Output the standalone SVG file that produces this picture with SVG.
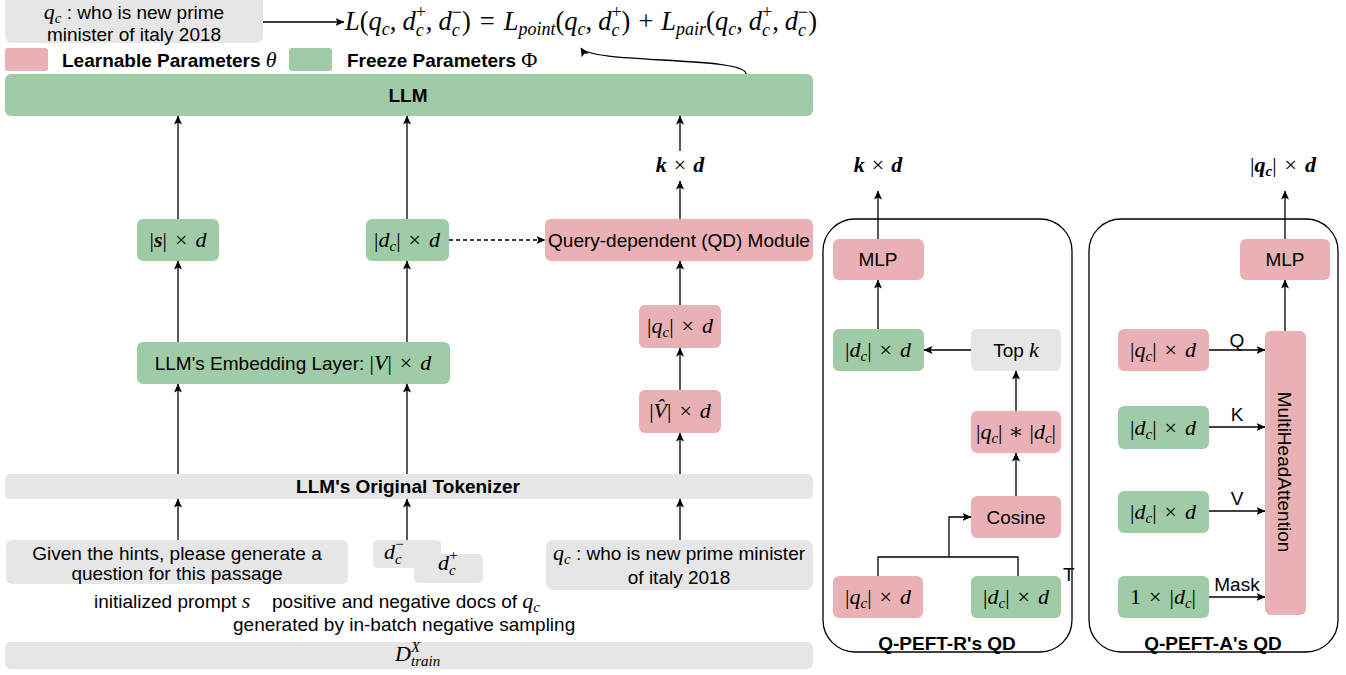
<svg xmlns="http://www.w3.org/2000/svg" width="1346" height="675" viewBox="0 0 1346 675">
<defs>
<style>
.pink{fill:#e9b0b5}
.green{fill:#9fcba6}
.gray{fill:#e6e6e6}
text{fill:#000}
.t{font-family:"Liberation Sans",Arial,sans-serif;font-size:19px;font-style:normal;font-weight:normal}
.b{font-weight:bold}
.m{font-family:"Liberation Serif","DejaVu Serif",serif;font-style:italic;font-size:22px}
.f{font-family:"Liberation Serif","DejaVu Serif",serif;font-style:italic;font-size:26.5px}
.u{font-style:normal}
.n{font-weight:normal}
.s{font-size:15px}
.fs{font-size:18px}
.conn line,.conn path,.conn polyline{stroke:#000;stroke-width:1.3;fill:none}
.panel{fill:none;stroke:#000;stroke-width:1.3}
</style>
<marker id="a" viewBox="0 0 10 8" refX="8.5" refY="4" markerWidth="10" markerHeight="8" markerUnits="userSpaceOnUse" orient="auto">
<path d="M0,0 L9,4 L0,8 L2,4 z" fill="#000"/>
</marker>
</defs>
<rect width="1346" height="675" fill="#fff"/>

<g id="top-query">
<rect class="gray" x="5" y="-6" width="258" height="49" rx="7"/>
<text x="134" y="19" text-anchor="middle"><tspan class="m" font-size="22">q<tspan class="s" dy="4">c</tspan></tspan><tspan class="t" dy="-4"> : who is new prime</tspan></text>
<text class="t" x="134" y="41" text-anchor="middle">minister of italy 2018</text>
</g>

<g id="loss">
<text class="f" x="345" y="30">L<tspan class="u">(</tspan>q<tspan class="fs" dy="5">c</tspan><tspan class="u" dy="-5">,</tspan><tspan dx="6">d</tspan><tspan class="fs" dy="6">c</tspan><tspan class="fs u" dx="-8" dy="-18">+</tspan><tspan class="u" dy="12">,</tspan><tspan dx="6">d</tspan><tspan class="fs" dy="6">c</tspan><tspan class="fs u" dx="-8" dy="-18">−</tspan><tspan class="u" dy="12">)</tspan><tspan class="u" dx="9">=</tspan><tspan dx="9">L</tspan><tspan class="fs" dy="5">point</tspan><tspan class="u" dy="-5">(</tspan>q<tspan class="fs" dy="5">c</tspan><tspan class="u" dy="-5">,</tspan><tspan dx="6">d</tspan><tspan class="fs" dy="6">c</tspan><tspan class="fs u" dx="-8" dy="-18">+</tspan><tspan class="u" dy="12">)</tspan><tspan class="u" dx="8">+</tspan><tspan dx="8">L</tspan><tspan class="fs" dy="5">pair</tspan><tspan class="u" dy="-5">(</tspan>q<tspan class="fs" dy="5">c</tspan><tspan class="u" dy="-5">,</tspan><tspan dx="6">d</tspan><tspan class="fs" dy="6">c</tspan><tspan class="fs u" dx="-8" dy="-18">+</tspan><tspan class="u" dy="12">,</tspan><tspan dx="6">d</tspan><tspan class="fs" dy="6">c</tspan><tspan class="fs u" dx="-8" dy="-18">−</tspan><tspan class="u" dy="12">)</tspan></text>
</g>

<g id="legend">
<rect class="pink" x="5" y="48" width="43" height="23" rx="3"/>
<text x="62" y="67"><tspan class="t b">Learnable Parameters </tspan><tspan class="m" font-size="21">θ</tspan></text>
<rect class="green" x="289" y="48" width="43" height="23" rx="3"/>
<text x="347" y="67"><tspan class="t b">Freeze Parameters </tspan><tspan class="m u" font-size="21">Φ</tspan></text>
</g>

<g id="llm">
<rect class="green" x="5" y="74" width="808" height="42" rx="6"/>
<text class="t b" x="408" y="102" text-anchor="middle">LLM</text>
</g>

<g id="kxd-left">
<text class="m" x="680" y="172" text-anchor="middle" font-weight="bold">k<tspan class="u n" dx="7">×</tspan><tspan dx="7">d</tspan></text>
</g>

<g id="s-d">
<rect class="green" x="137" y="219" width="82" height="42" rx="6"/>
<text class="m" x="178" y="247" text-anchor="middle"><tspan class="u">|</tspan><tspan font-weight="bold">s</tspan><tspan class="u">|</tspan><tspan class="u" dx="8">×</tspan><tspan dx="8">d</tspan></text>
</g>

<g id="dc-d">
<rect class="green" x="366" y="219" width="83" height="42" rx="6"/>
<text class="m" x="407" y="247" text-anchor="middle"><tspan class="u">|</tspan>d<tspan class="s" dy="4">c</tspan><tspan class="u" dy="-4">|</tspan><tspan class="u" dx="8">×</tspan><tspan dx="8">d</tspan></text>
</g>

<g id="qd-module">
<rect class="pink" x="545" y="219" width="268" height="42" rx="6"/>
<text class="t" x="679" y="247" text-anchor="middle">Query-dependent (QD) Module</text>
</g>

<g id="embedding">
<rect class="green" x="137" y="342" width="313" height="42" rx="6"/>
<text x="293" y="370" text-anchor="middle"><tspan class="t">LLM's Embedding Layer: </tspan><tspan class="m"><tspan class="u">|</tspan>V<tspan class="u">|</tspan><tspan class="u" dx="8">×</tspan><tspan dx="8">d</tspan></tspan></text>
</g>

<g id="qc-d">
<rect class="pink" x="639" y="305" width="82" height="43" rx="6"/>
<text class="m" x="680" y="333" text-anchor="middle"><tspan class="u">|</tspan>q<tspan class="s" dy="4">c</tspan><tspan class="u" dy="-4">|</tspan><tspan class="u" dx="8">×</tspan><tspan dx="8">d</tspan></text>
</g>

<g id="vhat-d">
<rect class="pink" x="639" y="390" width="82" height="43" rx="6"/>
<text class="m" x="680" y="418" text-anchor="middle"><tspan class="u">|</tspan>V̂<tspan class="u">|</tspan><tspan class="u" dx="8">×</tspan><tspan dx="8">d</tspan></text>
</g>

<g id="tokenizer">
<rect class="gray" x="5" y="474" width="808" height="25" rx="5"/>
<text class="t b" x="408" y="493" text-anchor="middle">LLM's Original Tokenizer</text>
</g>

<g id="prompt">
<rect class="gray" x="6" y="540" width="342" height="44" rx="6"/>
<text class="t" x="177" y="560" text-anchor="middle">Given the hints, please generate a</text>
<text class="t" x="177" y="580" text-anchor="middle">question for this passage</text>
</g>

<g id="docs">
<rect class="gray" x="373" y="540" width="68" height="28" rx="5"/>
<rect class="gray" x="414" y="554" width="69" height="29" rx="5"/>
<text class="m" x="384" y="559">d<tspan class="s" dy="5">c</tspan><tspan class="s u" dx="-6.5" dy="-15">−</tspan></text>
<text class="m" x="438" y="570">d<tspan class="s" dy="5">c</tspan><tspan class="s u" dx="-6.5" dy="-15">+</tspan></text>
</g>

<g id="query">
<rect class="gray" x="546" y="540" width="267" height="50" rx="7"/>
<text x="679" y="560" text-anchor="middle"><tspan class="m" font-size="22">q<tspan class="s" dy="4">c</tspan></tspan><tspan class="t" dy="-4"> : who is new prime minister</tspan></text>
<text class="t" x="679" y="584" text-anchor="middle">of italy 2018</text>
</g>

<g id="labels">
<text x="94" y="608"><tspan class="t">initialized prompt </tspan><tspan class="m" font-size="21">s</tspan></text>
<text x="272" y="608"><tspan class="t">positive and negative docs of </tspan><tspan class="m" font-size="22">q<tspan class="s" dy="4">c</tspan></tspan></text>
<text class="t" x="233" y="631">generated by in-batch negative sampling</text>
</g>

<g id="dtrain">
<rect class="gray" x="5" y="642" width="808" height="27" rx="5"/>
<text class="m" x="395" y="661">D<tspan class="s" dy="-9">X</tspan><tspan class="s" dx="-9" dy="14">train</tspan></text>
</g>

<g id="qpeft-r">
<rect class="panel" x="823" y="219" width="249" height="433" rx="32"/>
<text class="t b" x="947" y="650" text-anchor="middle" font-size="18">Q-PEFT-R's QD</text>
<text class="m" x="878" y="172" text-anchor="middle" font-weight="bold">k<tspan class="u n" dx="7">×</tspan><tspan dx="7">d</tspan></text>
</g>
<g id="r-mlp">
<rect class="pink" x="833" y="239" width="91" height="41" rx="6"/>
<text class="t" x="878" y="266" text-anchor="middle" font-size="20">MLP</text>
</g>
<g id="r-dc-d">
<rect class="green" x="833" y="329" width="91" height="42" rx="6"/>
<text class="m" x="878" y="357" text-anchor="middle"><tspan class="u">|</tspan>d<tspan class="s" dy="4">c</tspan><tspan class="u" dy="-4">|</tspan><tspan class="u" dx="8">×</tspan><tspan dx="8">d</tspan></text>
</g>
<g id="r-topk">
<rect class="gray" x="971" y="329" width="90" height="42" rx="6"/>
<text x="1016" y="357" text-anchor="middle"><tspan class="t">Top </tspan><tspan class="m" font-size="22">k</tspan></text>
</g>
<g id="r-prod">
<rect class="pink" x="971" y="411" width="90" height="42" rx="6"/>
<text class="m" x="1016" y="439" text-anchor="middle"><tspan class="u">|</tspan>q<tspan class="s" dy="4">c</tspan><tspan class="u" dy="-4">|</tspan><tspan class="u" dx="6">∗</tspan><tspan class="u" dx="6">|</tspan>d<tspan class="s" dy="4">c</tspan><tspan class="u" dy="-4">|</tspan></text>
</g>
<g id="r-cosine">
<rect class="pink" x="971" y="496" width="90" height="42" rx="6"/>
<text class="t" x="1016" y="524" text-anchor="middle">Cosine</text>
</g>
<g id="r-qc-d">
<rect class="pink" x="833" y="576" width="90" height="42" rx="6"/>
<text class="m" x="878" y="604" text-anchor="middle"><tspan class="u">|</tspan>q<tspan class="s" dy="4">c</tspan><tspan class="u" dy="-4">|</tspan><tspan class="u" dx="8">×</tspan><tspan dx="8">d</tspan></text>
</g>
<g id="r-dc-d2">
<rect class="green" x="971" y="576" width="90" height="42" rx="6"/>
<text class="m" x="1016" y="604" text-anchor="middle"><tspan class="u">|</tspan>d<tspan class="s" dy="4">c</tspan><tspan class="u" dy="-4">|</tspan><tspan class="u" dx="8">×</tspan><tspan dx="8">d</tspan></text>
<text class="t" x="1063" y="581" font-size="14">T</text>
</g>

<g id="qpeft-a">
<rect class="panel" x="1089" y="219" width="249" height="433" rx="32"/>
<text class="t b" x="1213" y="650" text-anchor="middle" font-size="18">Q-PEFT-A's QD</text>
<text class="m" x="1283" y="172" text-anchor="middle" font-weight="bold"><tspan class="u n">|</tspan>q<tspan class="s" dy="4">c</tspan><tspan class="u n" dy="-4">|</tspan><tspan class="u n" dx="8">×</tspan><tspan dx="8">d</tspan></text>
</g>
<g id="a-mlp">
<rect class="pink" x="1240" y="239" width="90" height="41" rx="6"/>
<text class="t" x="1285" y="266" text-anchor="middle" font-size="20">MLP</text>
</g>
<g id="a-mha">
<rect class="pink" x="1265" y="331" width="41" height="284" rx="6"/>
<text class="t" transform="translate(1285,472) rotate(90)" text-anchor="middle" y="7">MultiHeadAttention</text>
</g>
<g id="a-qc-d">
<rect class="pink" x="1118" y="329" width="91" height="42" rx="6"/>
<text class="m" x="1163" y="357" text-anchor="middle"><tspan class="u">|</tspan>q<tspan class="s" dy="4">c</tspan><tspan class="u" dy="-4">|</tspan><tspan class="u" dx="8">×</tspan><tspan dx="8">d</tspan></text>
</g>
<g id="a-dc-k">
<rect class="green" x="1118" y="406" width="91" height="43" rx="6"/>
<text class="m" x="1163" y="435" text-anchor="middle"><tspan class="u">|</tspan>d<tspan class="s" dy="4">c</tspan><tspan class="u" dy="-4">|</tspan><tspan class="u" dx="8">×</tspan><tspan dx="8">d</tspan></text>
</g>
<g id="a-dc-v">
<rect class="green" x="1118" y="491" width="91" height="42" rx="6"/>
<text class="m" x="1163" y="519" text-anchor="middle"><tspan class="u">|</tspan>d<tspan class="s" dy="4">c</tspan><tspan class="u" dy="-4">|</tspan><tspan class="u" dx="8">×</tspan><tspan dx="8">d</tspan></text>
</g>
<g id="a-mask">
<rect class="green" x="1118" y="576" width="91" height="42" rx="6"/>
<text class="m" x="1163" y="604" text-anchor="middle"><tspan class="u">1</tspan><tspan class="u" dx="8">×</tspan><tspan class="u" dx="8">|</tspan>d<tspan class="s" dy="4">c</tspan><tspan class="u" dy="-4">|</tspan></text>
</g>
<g id="a-labels">
<text class="t" x="1237" y="347" text-anchor="middle" font-size="17">Q</text>
<text class="t" x="1237" y="421" text-anchor="middle" font-size="17">K</text>
<text class="t" x="1237" y="505" text-anchor="middle" font-size="17">V</text>
<text class="t" x="1237" y="591" text-anchor="middle" font-size="17">Mask</text>
</g>

<g id="connectors" class="conn">
<line x1="263" y1="22" x2="344" y2="22" marker-end="url(#a)"/>
<path d="M746,74 C746,56 590,64 581,48" marker-end="url(#a)"/>
<line x1="178" y1="219" x2="178" y2="116" marker-end="url(#a)"/>
<line x1="407" y1="219" x2="407" y2="116" marker-end="url(#a)"/>
<line x1="680" y1="151" x2="680" y2="116" marker-end="url(#a)"/>
<line x1="680" y1="219" x2="680" y2="181" marker-end="url(#a)"/>
<line x1="449" y1="240" x2="545" y2="240" stroke-dasharray="4,3" marker-end="url(#a)"/>
<line x1="178" y1="342" x2="178" y2="261" marker-end="url(#a)"/>
<line x1="407" y1="342" x2="407" y2="261" marker-end="url(#a)"/>
<line x1="680" y1="305" x2="680" y2="261" marker-end="url(#a)"/>
<line x1="680" y1="390" x2="680" y2="348" marker-end="url(#a)"/>
<line x1="178" y1="474" x2="178" y2="384" marker-end="url(#a)"/>
<line x1="407" y1="474" x2="407" y2="384" marker-end="url(#a)"/>
<line x1="680" y1="474" x2="680" y2="433" marker-end="url(#a)"/>
<line x1="178" y1="540" x2="178" y2="499" marker-end="url(#a)"/>
<line x1="407" y1="540" x2="407" y2="499" marker-end="url(#a)"/>
<line x1="680" y1="540" x2="680" y2="499" marker-end="url(#a)"/>
<line x1="878" y1="239" x2="878" y2="191" marker-end="url(#a)"/>
<line x1="878" y1="329" x2="878" y2="280" marker-end="url(#a)"/>
<line x1="971" y1="350" x2="924" y2="350" marker-end="url(#a)"/>
<line x1="1016" y1="411" x2="1016" y2="371" marker-end="url(#a)"/>
<line x1="1016" y1="496" x2="1016" y2="453" marker-end="url(#a)"/>
<polyline points="878,576 878,557 1018,557 1018,576"/>
<polyline points="949,557 949,517 971,517" marker-end="url(#a)"/>
<line x1="1285" y1="239" x2="1285" y2="191" marker-end="url(#a)"/>
<line x1="1285" y1="331" x2="1285" y2="280" marker-end="url(#a)"/>
<line x1="1209" y1="350" x2="1265" y2="350" marker-end="url(#a)"/>
<line x1="1209" y1="427" x2="1265" y2="427" marker-end="url(#a)"/>
<line x1="1209" y1="511" x2="1265" y2="511" marker-end="url(#a)"/>
<line x1="1209" y1="597" x2="1265" y2="597" marker-end="url(#a)"/>
</g>
</svg>
